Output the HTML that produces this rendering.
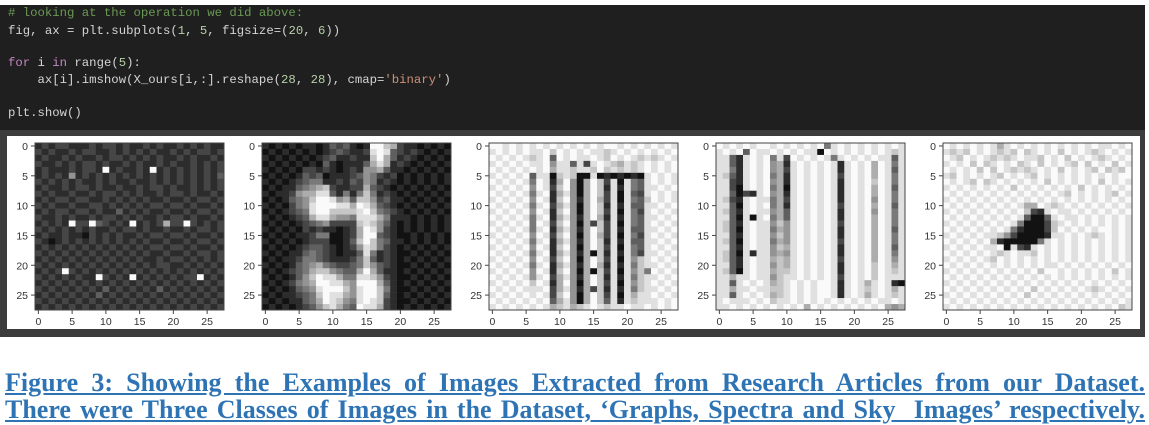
<!DOCTYPE html>
<html>
<head>
<meta charset="utf-8">
<style>
html,body{margin:0;padding:0;background:#fff;}
body{width:1149px;height:425px;position:relative;overflow:hidden;}
#outer{position:absolute;left:0;top:5px;width:1145px;height:332px;background:#3c3c3c;}
#code{position:absolute;left:0;top:5px;width:1145px;height:125px;background:#1f1f1f;}
.ln{position:absolute;left:8px;font-family:"Liberation Mono",monospace;font-size:12.3px;color:#d4d4d4;white-space:pre;line-height:14px;}
.cm{color:#6a9955}.kw{color:#c586c0}.nm{color:#b5cea8}.st{color:#ce9178}
#fig{position:absolute;left:0;top:0;}
.cap{position:absolute;left:5px;width:1140px;font-family:"Liberation Serif",serif;font-weight:bold;font-size:26px;color:#2e74b5;text-decoration:underline;white-space:nowrap;text-align:justify;text-align-last:justify;line-height:27px;}
</style>
</head>
<body>
<div id="outer"></div>
<div id="code">
<div class="ln" style="top:1px"><span class="cm"># looking at the operation we did above:</span></div>
<div class="ln" style="top:19px">fig, ax = plt.subplots(<span class="nm">1</span>, <span class="nm">5</span>, figsize=(<span class="nm">20</span>, <span class="nm">6</span>))</div>
<div class="ln" style="top:51px"><span class="kw">for</span> i <span class="kw">in</span> range(<span class="nm">5</span>):</div>
<div class="ln" style="top:68px">    ax[i].imshow(X_ours[i,:].reshape(<span class="nm">28</span>, <span class="nm">28</span>), cmap=<span class="st">'binary'</span>)</div>
<div class="ln" style="top:101px">plt.show()</div>
</div>
<svg id="fig" width="1149" height="340" style="position:absolute;left:0;top:0"></svg>
<div class="cap" style="top:369px">Figure 3: Showing the Examples of Images Extracted from Research Articles from our Dataset.</div>
<div class="cap" style="top:396px">There were Three Classes of Images in the Dataset, ‘Graphs, Spectra and Sky&nbsp; Images’ respectively.</div>
<script>
const tickValues=[0,5,10,15,20,25];
const panelNames=['image-1','image-2','image-3','image-4','image-5'];
const img1=["1212211121221211212112121211","2121121221121212121121212212","1211212112122121212112121121","2112121221211212112121121212","1211121221912112191212121212","1212151212121212121212121213","2121212112121121121212121212","1211212212112112122121121212","2121121121221212112122121121","1212212211212121211211212212","2121121122121212122122121121","1212212212113121211211212212","2112121121221212112122121121","1212192293212191212622921212","2121212121121221211211212212","1211211021212112122122121121","2101212121212121211211212212","1212121212121212122122121121","2121212121212121211211212212","1212121212121212112122121212","2121212121212121212211212121","1212921212121212121212121212","2121212119212191212121229121","1212121212121212121212121212","2121212121312121213121212121","1212121213121212121212121212","2121212121212121212121212121","1212121212121212121212121212"];
const img2=["1010101101323101997621101010","0101010101232112898321210101","1010101012311211796312101010","0101010103101113686121010101","1010102212101215563110101010","0101013230111235421201010101","1010123441121325412101010101","0101134567211226321010101010","1011256688314147412101010101","0101345799856377523110101010","1010245899988698632101010101","0101234899777789743210101010","1010123688655488864111010101","0101012345222278753101010101","1010102121101269852101010101","0101011244001269932100101010","1010101222001379743110101010","0101012332101258742101010101","1010113432101138412100101010","0101124432111247312101010101","1010134564322347532100101010","0101234677543369631101010101","1010135798864488752100101010","0101245699886599963101010101","1010134589997589974100101010","0101123479886589973101010101","1010113469875489872100101010","0101012357864398862101010101"];
const img3=["9989898989898989899898989898","8989898897989898878989898989","9898987893989889879898787898","8989898895883828987687898989","9898989896887887978787898989","8989893880787008010101089898","9898984981695069728084389898","8989895982795069718184388989","9898984891685069728083289898","8989895981795169628084379898","9898984892685069718183388989","8989895981795069728084289898","9898984891685169618184388989","8989894982795062728084389898","9898984891685169728183388989","8989895982795069628084289898","9898984891685169718183388989","8989895981795069728084389898","9898984891685160718184288989","8989895982795069728085789898","9898984891685169618184788989","8989895981795060728085749898","9898985892685169718184788989","8989897981695069728085789898","9898988892685162718184788989","8989898982795069728086889898","9898989893685069738187888989","8989898986786789878898898989"];
const img4=["9898989989898989489898989898","8989398898989880989898989878","8831898948298989848989898838","8831898956189898981898969848","8841898956289898981898969838","8731898946189898982898969848","8821898956189898981898979848","8820898946089898981898969838","8830218956189898981898969848","8721898846289898981898959848","8830898946189898982898969838","8731898856389898981898959848","8830808946389898981898969848","8731898857589898982898969848","8730898846589898981898969838","8831898857589898981898969848","8730898846589898982898969848","8831898857689898981898969838","8730818856589898981898969848","8731898867689898982898969858","8831898857689898981898979868","8730898867789898981898979878","8868898857889898982898979888","8838989867898989981898689810","8868898877898989981898789868","8838989867898989981898689878","8988898978898989898989898898","8898989898989698989898989656"];
const img5=["9898989868989898989898988989","8787989878797898979898789898","9879898787898879897989878989","8989797898978979898797989798","9898979798787898979898797879","8798989879898798989898989899","9898797898989897989898979898","8989898989798989898979898989","9898989898989898987989898798","8989898989898989898989898989","9898989898986698789898989898","8989898989897218988989898989","9898989898983003898898989898","8989898989840002789898989898","9898989898410002798989899898","8989898875200001889898789898","9898989610000048989898989898","8989898890821898989898989898","9898989878988798989898989898","8989898798989898989898989898","9898989898989898898989898989","8989898989898979989898989798","9898989898989898989898989898","8989898989898989898989898989","9898989898989798989898789898","8989898989897989898989898989","9898989898989898989898989898","8989898989898989898989898978"];
const images=[img1,img2,img3,img4,img5];

const NS='http://www.w3.org/2000/svg';
const svg=document.getElementById('fig');
const panelBg=document.createElementNS(NS,'rect');
panelBg.setAttribute('x',7);panelBg.setAttribute('y',136);panelBg.setAttribute('width',1133);panelBg.setAttribute('height',193);panelBg.setAttribute('fill','#fff');


svg.appendChild(panelBg);
const lefts=[35,262,489,716,943], TOP=143, W=189, H=167, N=28;
function sx(i,c){return lefts[i]+(c+0.5)/N*W;}
function sy(r){return TOP+(r+0.5)/N*H;}
function gray(d){const v=Math.round(18+d/9*232);return 'rgb('+v+','+v+','+v+')';}
images.forEach((img,i)=>{
  const g=document.createElementNS(NS,'g');
  
  
  svg.appendChild(g);
  for(let r=0;r<N;r++){
    const row=img[r]||'';
    for(let c=0;c<N;c++){
      const d=parseInt(row[c]||'8',10);
      const rc=document.createElementNS(NS,'rect');
      const x0=sx(i,c-0.5), x1=sx(i,c+0.5), y0=sy(r-0.5), y1=sy(r+0.5);
      rc.setAttribute('x',x0.toFixed(2));rc.setAttribute('y',y0.toFixed(2));
      rc.setAttribute('width',(x1-x0+0.3).toFixed(2));rc.setAttribute('height',(y1-y0+0.3).toFixed(2));
      rc.setAttribute('fill',gray(d));
      
      
      g.appendChild(rc);
    }
  }
  const fr=document.createElementNS(NS,'rect');
  fr.setAttribute('x',lefts[i]);fr.setAttribute('y',TOP);fr.setAttribute('width',W);fr.setAttribute('height',H);
  fr.setAttribute('fill','none');fr.setAttribute('stroke','#444');fr.setAttribute('stroke-width','1');
  
  
  g.appendChild(fr);
  tickValues.forEach(v=>{
    const y=sy(v);
    const tl=document.createElementNS(NS,'line');
    tl.setAttribute('x1',lefts[i]-4);tl.setAttribute('x2',lefts[i]);tl.setAttribute('y1',y);tl.setAttribute('y2',y);tl.setAttribute('stroke','#444');
    
    
    g.appendChild(tl);
    const tt=document.createElementNS(NS,'text');
    tt.setAttribute('x',lefts[i]-7);tt.setAttribute('y',y+4);tt.setAttribute('text-anchor','end');
    tt.setAttribute('font-family','Liberation Sans, sans-serif');tt.setAttribute('font-size','10.5');tt.setAttribute('fill','#333');
    tt.textContent=v;
    
    
    g.appendChild(tt);
    const x=sx(i,v);
    const xl=document.createElementNS(NS,'line');
    xl.setAttribute('x1',x);xl.setAttribute('x2',x);xl.setAttribute('y1',TOP+H);xl.setAttribute('y2',TOP+H+4);xl.setAttribute('stroke','#444');
    
    
    g.appendChild(xl);
    const xt=document.createElementNS(NS,'text');
    xt.setAttribute('x',x);xt.setAttribute('y',TOP+H+15);xt.setAttribute('text-anchor','middle');
    xt.setAttribute('font-family','Liberation Sans, sans-serif');xt.setAttribute('font-size','10.5');xt.setAttribute('fill','#333');
    xt.textContent=v;
    
    
    g.appendChild(xt);
  });
});
</script>
</body>
</html>
